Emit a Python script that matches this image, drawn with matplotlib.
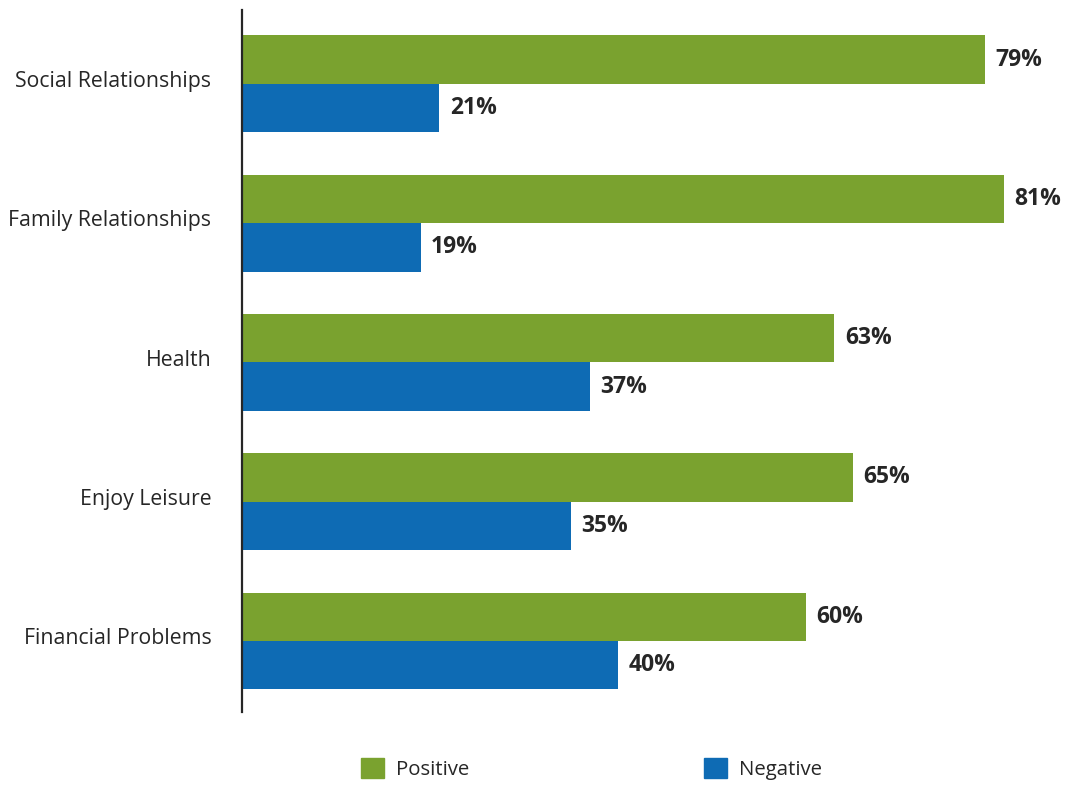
import numpy as np
import matplotlib.pyplot as plt
from matplotlib.patches import Patch

plt.rcParams['font.family'] = ['Open Sans', 'DejaVu Sans']

categories = ["Social Relationships", "Family Relationships", "Health",
              "Enjoy Leisure", "Financial Problems"]
positive = [79, 81, 63, 65, 60]
negative = [21, 19, 37, 35, 40]

green = "#7aa22f"
blue = "#0e6bb4"
textc = "#262626"

fig = plt.figure(figsize=(10.66, 7.85), dpi=100)
ax = fig.add_axes([242 / 1066, 73 / 785, 818 / 1066, 702 / 785])

y = np.arange(len(categories))
h = 0.348
ax.barh(y - h / 2, positive, height=h, color=green)
ax.barh(y + h / 2, negative, height=h, color=blue)

for yi, p, n in zip(y, positive, negative):
    ax.annotate(f"{p}%", (p, yi - h / 2), xytext=(7.5, 0), textcoords="offset points",
                va="center", ha="left", fontsize=16.5, fontweight="bold", color=textc)
    ax.annotate(f"{n}%", (n, yi + h / 2), xytext=(7.5, 0), textcoords="offset points",
                va="center", ha="left", fontsize=16.5, fontweight="bold", color=textc)

ax.set_xlim(0, 87)
ax.set_ylim(4.51, -0.531)
ax.set_yticks(y - 0.035)
ax.set_yticklabels(categories, fontsize=15.3, color=textc)
ax.tick_params(axis="y", length=0, pad=22)
ax.set_xticks([])
for s in ["top", "right", "bottom"]:
    ax.spines[s].set_visible(False)
ax.spines["left"].set_linewidth(1.6)
ax.spines["left"].set_color(textc)

handles = [Patch(color=green, label="Positive"), Patch(color=blue, label="Negative")]
leg = fig.legend(handles=handles, loc="center", bbox_to_anchor=(0.555, 0.02), ncol=2,
                 frameon=False, fontsize=14.7, handlelength=1.1, handleheight=1.1,
                 columnspacing=11.5, handletextpad=0.6)
for t in leg.get_texts():
    t.set_color(textc)

fig.savefig("out.png", dpi=100)
